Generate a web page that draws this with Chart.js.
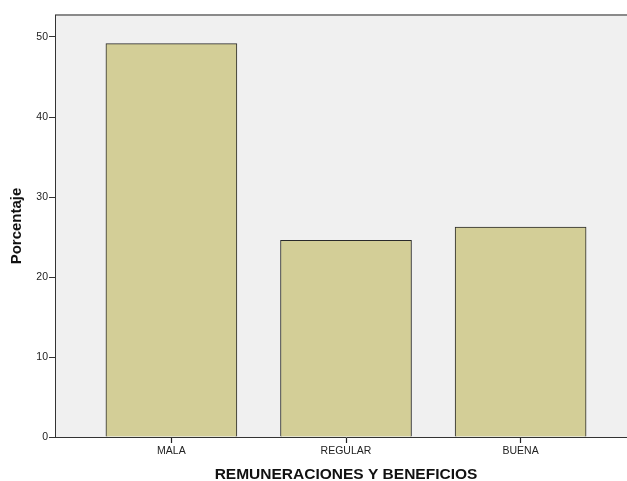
<!DOCTYPE html>
<html>
<head>
<meta charset="utf-8">
<script src="https://cdn.jsdelivr.net/npm/chart.js@4/dist/chart.umd.min.js"></script>
<style>
  html, body { margin: 0; padding: 0; background: #ffffff; overflow: hidden; }
  #wrap { position: relative; width: 637px; height: 481px; }
</style>
</head>
<body>
<div id="wrap"><canvas id="c"></canvas></div>
<script>
const categories = ['MALA', 'REGULAR', 'BUENA'];
const percentages = [49.18, 24.59, 26.23];
const yTicks = [0, 10, 20, 30, 40, 50];
const yMax = 52.75;
const xTitle = 'REMUNERACIONES Y BENEFICIOS';
const yTitle = 'Porcentaje';

const points = categories.map((c, i) => ({ x: i + 1, y: percentages[i] }));

const plotBg = {
  id: 'plotBg',
  beforeDraw(chart) {
    const { ctx, chartArea: a } = chart;
    ctx.save();
    ctx.fillStyle = '#f0f0f0';
    ctx.fillRect(a.left, a.top, a.right - a.left, a.bottom - a.top);
    ctx.strokeStyle = '#8a8a8a';
    ctx.lineWidth = 2;
    ctx.beginPath();
    ctx.moveTo(a.left, a.top);
    ctx.lineTo(a.right, a.top);
    ctx.stroke();
    ctx.restore();
  }
};

new Chart(document.getElementById('c'), {
  type: 'bar',
  data: {
    datasets: [{
      data: points,
      backgroundColor: '#d3ce97',
      borderColor: '#2a2a2a',
      borderWidth: 1,
      barThickness: 131
    }]
  },
  options: {
    responsive: true,
    maintainAspectRatio: false,
    animation: false,
    devicePixelRatio: 1,
    layout: { padding: { top: 15, right: 0, left: 0, bottom: 0 } },
    plugins: { legend: { display: false }, tooltip: { enabled: false } },
    scales: {
      x: {
        type: 'linear',
        offset: false,
        min: 1 / 3,
        max: 11 / 3,
        afterBuildTicks(scale) { scale.ticks = categories.map((c, i) => ({ value: i + 1 })); },
        afterFit(scale) { scale.height = 44; },
        ticks: {
          callback: (v) => categories[Math.round(v) - 1],
          color: '#222',
          font: { family: 'Liberation Sans, Arial', size: 10.5 },
          padding: 2,
          maxRotation: 0,
          autoSkip: false
        },
        grid: { display: true, offset: false, drawOnChartArea: false, drawTicks: true, tickLength: 6, lineWidth: 1, color: '#222', tickColor: '#222', tickWidth: 1.2 },
        border: { display: true, color: '#333', width: 1 },
        title: {
          display: true,
          text: xTitle,
          color: '#111',
          font: { family: 'Liberation Sans, Arial', size: 15.5, weight: 'bold' },
          padding: { top: 0, bottom: -2.8 }
        }
      },
      y: {
        min: 0,
        max: yMax,
        afterBuildTicks(scale) { scale.ticks = yTicks.map(v => ({ value: v })); },
        afterFit(scale) { scale.width = 55; },
        ticks: {
          color: '#222',
          font: { family: 'Liberation Sans, Arial', size: 10.5 },
          padding: 1
        },
        grid: { drawOnChartArea: false, drawTicks: true, tickLength: 6, color: '#333', tickColor: '#333' },
        border: { display: true, color: '#333', width: 1 },
        title: {
          display: true,
          text: yTitle,
          color: '#111',
          font: { family: 'Liberation Sans, Arial', size: 15, weight: 'bold' },
          padding: { top: 8, bottom: 0 }
        }
      }
    }
  },
  plugins: [plotBg]
});
</script>
</body>
</html>
